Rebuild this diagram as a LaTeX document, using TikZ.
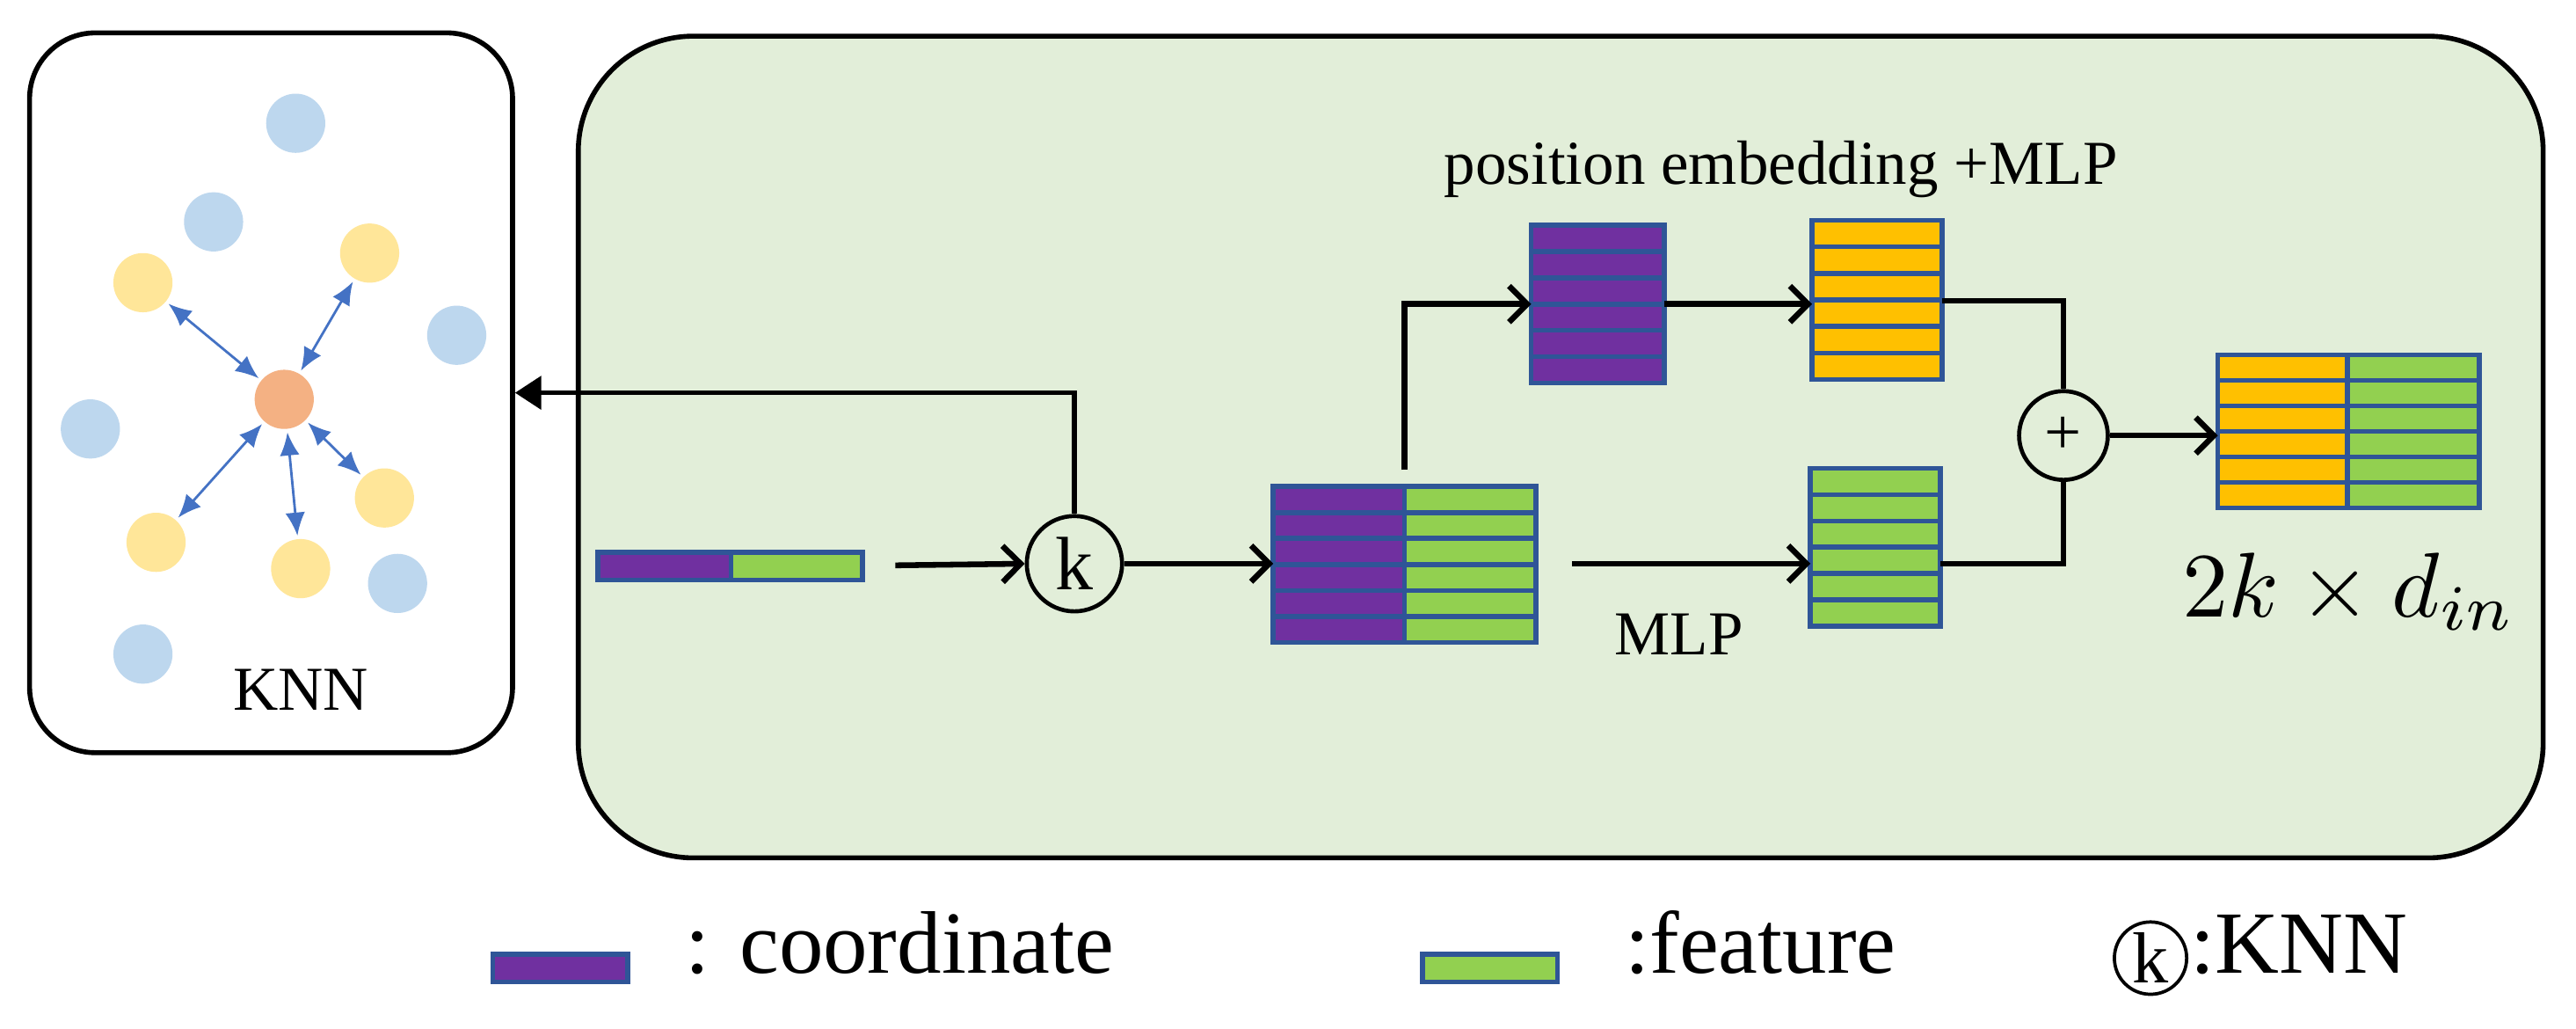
\documentclass[tikz,border=0pt]{standalone}
\usepackage{fontspec}
\setmainfont{Liberation Serif}
\usetikzlibrary{arrows.meta,calc}
\definecolor{bgreen}{HTML}{E2EED9}
\definecolor{cpurple}{HTML}{7030A0}
\definecolor{cgreen}{HTML}{92D050}
\definecolor{corange}{HTML}{FFC000}
\definecolor{cborder}{HTML}{2F5597}
\definecolor{dblue}{HTML}{BDD7EE}
\definecolor{dyellow}{HTML}{FFE699}
\definecolor{dorange}{HTML}{F4B183}
\definecolor{ablue}{HTML}{4472C4}
\newcommand\mkrows[3]{%
  \foreach \i in {1,...,#2}{%
    \path ($(#1.north west)!{(\i-1)/#2}!(#1.south west)$) coordinate (ra)
          ($(#1.north east)!{\i/#2}!(#1.south east)$) coordinate (rb);
    \draw[cell,fill=#3] (ra) rectangle (rb);}}
\tikzset{
  frame/.style={draw=black,line width=3pt},
  stk/.style={draw=none,inner sep=0pt,outer sep=0pt,rectangle},
  cell/.style={draw=cborder,line width=3pt},
  dot/.style={ellipse,minimum width=36pt,minimum height=36pt,inner sep=0pt},
  darr/.style={ablue,line width=1.5pt,{Latex[length=14pt,width=12pt]}-{Latex[length=14pt,width=12pt]},shorten <=2pt,shorten >=2pt},
  flow/.style={black,line width=3.5pt,-{Straight Barb[length=11pt,width=22pt,line width=3.5pt]}},
  conn/.style={black,line width=3pt},
  txt/.style={font=\fontsize{38}{40}\selectfont,inner sep=0pt},
  circ/.style={circle,draw=black,line width=2.5pt,inner sep=0pt},
}
\usetikzlibrary{shapes.geometric}
\begin{document}
\begin{tikzpicture}[x=1pt,y=-1pt]
\useasboundingbox (0,0) rectangle (1568,626);
% frames
\node[frame,fill=white,rounded corners=40pt,minimum width=294pt,minimum height=438pt,inner sep=0pt] (knnbox) at (165,239) {};
\node[frame,fill=bgreen,rounded corners=70pt,minimum width=1196pt,minimum height=500pt,inner sep=0pt] (main) at (950,272) {};
% dots
\foreach \n/\x/\y in {b1/180/75,b2/130/135,b3/278/204,b4/55/261,b5/242/355,b6/87/398}
  \node[dot,fill=dblue] (\n) at (\x,\y) {};
\foreach \n/\x/\y in {y1/87/172,y2/225/154,y3/234/303,y4/95/330,y5/183/346}
  \node[dot,fill=dyellow] (\n) at (\x,\y) {};
\node[dot,fill=dorange] (c) at (173,243) {};
\foreach \n in {y1,y2,y3,y4,y5} \draw[darr] (c) -- (\n);
\node[txt,anchor=base] (knnlabel) at (183,432) {KNN};
% input bar
\node[stk,minimum width=81pt,minimum height=17pt] (inp) at (404.5,344.5) {};
\node[stk,minimum width=80pt,minimum height=17pt] (inf) at (485,344.5) {};
\mkrows{inp}{1}{cpurple}
\mkrows{inf}{1}{cgreen}
\node[circ,minimum size=58pt,font=\fontsize{46}{46}\selectfont] (k) at (654,343) {k};
% big stack
\node[stk,minimum width=80pt,minimum height=95pt] (bp) at (815,343.5) {};
\node[stk,minimum width=80pt,minimum height=95pt] (bf) at (895,343.5) {};
\mkrows{bp}{6}{cpurple}
\mkrows{bf}{6}{cgreen}
% position stacks
\node[stk,minimum width=81pt,minimum height=96pt] (pp) at (972.5,185) {};
\mkrows{pp}{6}{cpurple}
\node[stk,minimum width=79pt,minimum height=97pt] (pe) at (1142.5,182.5) {};
\mkrows{pe}{6}{corange}
\node[stk,minimum width=79pt,minimum height=96pt] (gm) at (1141.5,333) {};
\mkrows{gm}{6}{cgreen}
% output
\node[stk,minimum width=79pt,minimum height=93pt] (oo) at (1389.5,262.5) {};
\node[stk,minimum width=80pt,minimum height=93pt] (og) at (1469,262.5) {};
\mkrows{oo}{6}{corange}
\mkrows{og}{6}{cgreen}
\node[circ,minimum size=54pt,font=\fontsize{40}{40}\selectfont] (plus) at (1256,265) {+};
% labels
\node[txt] (pel) at (1084,103) {position embedding +MLP};
\node[txt] (mlp) at (1022,386) {MLP};
\node[inner sep=0pt,scale=5.6] (dim) at (1430,360) {$2k\times d_{in}$};
% connectors
\coordinate (s1) at (545,344);
\draw[flow] (s1) -- (k.west);
\draw[conn,-{Triangle[length=16pt,width=20pt]}] (k.north) |- (knnbox.east |- 0,239);
\draw[flow] (k.east) -- (bp.west |- k.east);
\draw[flow] (bp.north east) ++(0,-10) |- (pp.west);
\draw[flow] (pp.east) -- (pe.west |- pp.east);
\draw[conn] (pe.east |- 0,183) -| (plus.north);
\draw[conn] (gm.east |- 0,343) -| (plus.south);
\draw[flow] (plus.east) -- (oo.west |- plus.east);
\coordinate (s2) at (957,343);
\draw[flow] (s2) -- (gm.west |- s2);
% legend
\node[stk,minimum width=82pt,minimum height=17pt] (lp) at (341,589) {};
\mkrows{lp}{1}{cpurple}
\node[txt,anchor=base west,font=\fontsize{54}{54}\selectfont] (lpt) at (417,592) {: coordinate};
\node[stk,minimum width=82pt,minimum height=17pt] (lg) at (907,589) {};
\mkrows{lg}{1}{cgreen}
\node[txt,anchor=base west,font=\fontsize{54}{54}\selectfont] (lgt) at (989,592) {:feature};
\node[circ,line width=2pt,minimum size=44pt,font=\fontsize{44}{44}\selectfont] (lk) at (1309,583) {k};
\node[txt,anchor=base west,font=\fontsize{54}{54}\selectfont] (lkt) at (1333,592) {:KNN};
\end{tikzpicture}
\end{document}
